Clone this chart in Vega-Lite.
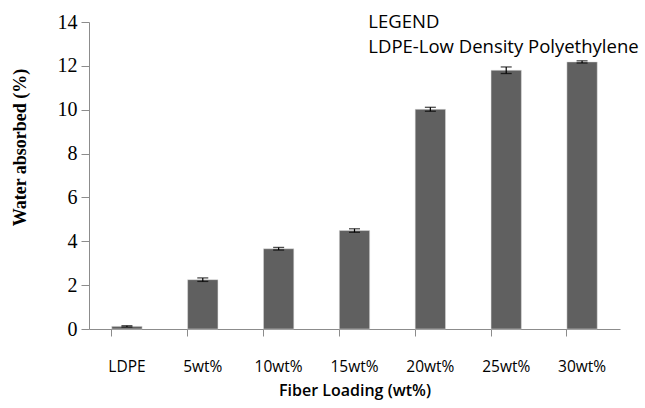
{
  "$schema": "https://vega.github.io/schema/vega-lite/v6.json",
  "autosize": {"type": "none"},
  "width": 531,
  "height": 307,
  "padding": {"left": 89, "top": 22, "right": 25, "bottom": 79},
  "background": "white",
  "config": {"view": {"stroke": null}},
  "datasets": {
    "bars": [
      {"cat": "LDPE", "value": 0.12, "lo": 0.09, "hi": 0.15},
      {"cat": "5wt%", "value": 2.25, "lo": 2.17, "hi": 2.33},
      {"cat": "10wt%", "value": 3.66, "lo": 3.6, "hi": 3.72},
      {"cat": "15wt%", "value": 4.49, "lo": 4.41, "hi": 4.57},
      {"cat": "20wt%", "value": 10.02, "lo": 9.93, "hi": 10.11},
      {"cat": "25wt%", "value": 11.8, "lo": 11.65, "hi": 11.95},
      {"cat": "30wt%", "value": 12.18, "lo": 12.13, "hi": 12.23}
    ],
    "notes": [
      {"cat": "20wt%", "y": 14.0, "label": "LEGEND"},
      {"cat": "20wt%", "y": 12.85, "label": "LDPE-Low Density  Polyethylene"}
    ]
  },
  "layer": [
    {
      "data": {"name": "bars"},
      "mark": {"type": "bar", "color": "#606060", "stroke": "#e0e0e0", "strokeWidth": 0.5},
      "encoding": {
        "x": {
          "field": "cat", "type": "nominal", "sort": null,
          "scale": {"paddingInner": 0.6, "paddingOuter": 0.3},
          "title": "Fiber Loading (wt%)",
          "axis": {
            "bandPosition": 0, "labelAngle": 0, "domainColor": "#8c8c8c", "tickColor": "#8c8c8c",
            "tickSize": 7, "labelPadding": 23, "labelFont": "Open Sans", "labelFontSize": 15.5,
            "labelColor": "#000", "titleFont": "Open Sans", "titleFontSize": 16,
            "titleFontWeight": 600, "titleColor": "#000", "titlePadding": 8
          }
        },
        "y": {
          "field": "value", "type": "quantitative",
          "scale": {"domain": [0, 14], "nice": false},
          "title": "Water absorbed (%)",
          "axis": {
            "values": [0, 2, 4, 6, 8, 10, 12, 14], "grid": false, "domainColor": "#8c8c8c",
            "tickColor": "#8c8c8c", "tickSize": 8, "labelPadding": 4,
            "labelFont": "Liberation Serif", "labelFontSize": 20, "labelColor": "#000",
            "titleFont": "Liberation Serif", "titleFontSize": 18, "titleFontWeight": "bold",
            "titleColor": "#000", "titleX": -69, "titleY": 125, "titleBaseline": "middle",
            "titleAlign": "center", "titleAngle": -90
          }
        }
      }
    },
    {
      "data": {"name": "bars"},
      "mark": {"type": "rule", "color": "#000", "strokeWidth": 1.2},
      "encoding": {
        "x": {"field": "cat", "type": "nominal", "sort": null},
        "y": {"field": "lo", "type": "quantitative"},
        "y2": {"field": "hi"}
      }
    },
    {
      "data": {"name": "bars"},
      "mark": {"type": "tick", "color": "#000", "size": 11, "thickness": 1.3, "orient": "horizontal"},
      "encoding": {
        "x": {"field": "cat", "type": "nominal", "sort": null},
        "y": {"field": "lo", "type": "quantitative"}
      }
    },
    {
      "data": {"name": "bars"},
      "mark": {"type": "tick", "color": "#000", "size": 11, "thickness": 1.3, "orient": "horizontal"},
      "encoding": {
        "x": {"field": "cat", "type": "nominal", "sort": null},
        "y": {"field": "hi", "type": "quantitative"}
      }
    },
    {
      "data": {"name": "notes"},
      "mark": {"type": "text", "align": "left", "baseline": "middle", "dx": -62, "font": "Open Sans", "fontSize": 18.5, "color": "#000"},
      "encoding": {
        "x": {"field": "cat", "type": "nominal", "sort": null},
        "y": {"field": "y", "type": "quantitative"},
        "text": {"field": "label"}
      }
    }
  ]
}
